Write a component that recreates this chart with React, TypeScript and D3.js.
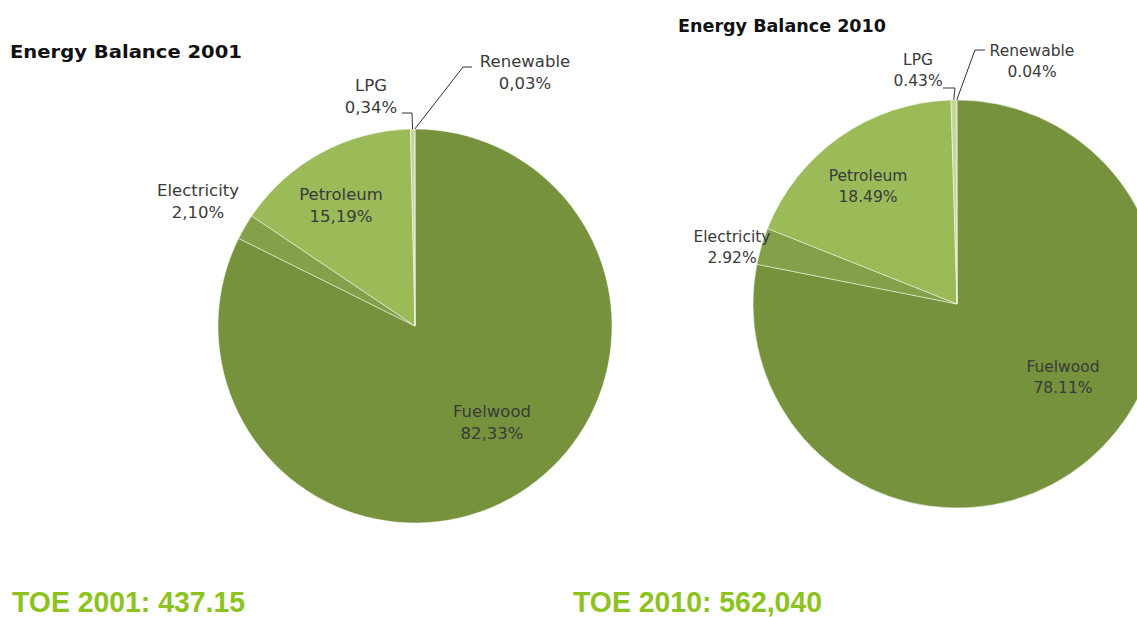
import React from "react";
import * as d3 from "d3";

const categories = ["Fuelwood", "Electricity", "Petroleum", "LPG", "Renewable"];
const values2001 = [82.33, 2.1, 15.19, 0.34, 0.03];
const values2010 = [78.11, 2.92, 18.49, 0.43, 0.04];
const labels2001 = ["82,33%", "2,10%", "15,19%", "0,34%", "0,03%"];
const labels2010 = ["78.11%", "2.92%", "18.49%", "0.43%", "0.04%"];
const colors = ["#76923C", "#84A04A", "#9BBB59", "#C4D79B", "#6E8A36"];

const layouts = [
  {
    title: "Energy Balance 2001",
    titleX: 10,
    titleY: 58,
    titleW: 232,
    cx: 415,
    cy: 326,
    r: 197,
    fontSize: 16.5,
    lineGap: 22,
    values: values2001,
    labels: labels2001,
    labelOffsets: [[77, 97], [-217, -124], [-74, -120], [-44, -229], [110, -253]],
    leaders: [null, null, null, [[-3, -213], [-13, -213]], [[48, -259], [57, -259]]],
    toe: "TOE 2001: 437.15",
    toeX: 12,
    toeW: 233,
  },
  {
    title: "Energy Balance 2010",
    titleX: 678,
    titleY: 32,
    titleW: 208,
    cx: 957,
    cy: 304,
    r: 204,
    fontSize: 15.5,
    lineGap: 21,
    values: values2010,
    labels: labels2010,
    labelOffsets: [[106, 73], [-225, -57], [-89, -118], [-39, -234], [75, -243]],
    leaders: [null, null, null, [[-2, -216], [-14, -216]], [[18, -254], [28, -254]]],
    toe: "TOE 2010: 562,040",
    toeX: 573,
    toeW: 249,
  },
];

function Pie({ L }: { L: (typeof layouts)[number] }) {
  const pie = d3.pie<number>().sort(null).value((d) => d);
  const arcs = pie(L.values);
  const arcGen = d3.arc<d3.PieArcDatum<number>>().innerRadius(0).outerRadius(L.r);
  return (
    <g>
      <text
        x={L.titleX}
        y={L.titleY}
        fontFamily="'DejaVu Sans', sans-serif"
        fontWeight="bold"
        fontSize={17.5}
        fill="#111"
        textLength={L.titleW}
        lengthAdjust="spacingAndGlyphs"
      >
        {L.title}
      </text>
      <g transform={`translate(${L.cx},${L.cy})`}>
        {arcs.map((a, i) => (
          <path key={i} d={arcGen(a) || ""} fill={colors[i]} stroke="#ffffff" strokeOpacity={0.6} strokeWidth={0.8} />
        ))}
        {arcs.map((a, i) => {
          const ld = L.leaders[i];
          if (!ld) return null;
          const mid = (a.startAngle + a.endAngle) / 2;
          const ex = Math.sin(mid) * L.r;
          const ey = -Math.cos(mid) * L.r;
          return (
            <polyline
              key={"l" + i}
              points={`${ex},${ey} ${ld[0][0]},${ld[0][1]} ${ld[1][0]},${ld[1][1]}`}
              fill="none"
              stroke="#333"
              strokeWidth={1}
            />
          );
        })}
        {arcs.map((a, i) => {
          const [ox, oy] = L.labelOffsets[i];
          return (
            <text
              key={"t" + i}
              textAnchor="middle"
              fontFamily="'DejaVu Sans', sans-serif"
              fontSize={L.fontSize}
              fill="#3a3a3a"
            >
              <tspan x={ox} y={oy - L.lineGap / 2 + 5}>{categories[i]}</tspan>
              <tspan x={ox} y={oy + L.lineGap / 2 + 5}>{L.labels[i]}</tspan>
            </text>
          );
        })}
      </g>
      <text
        x={L.toeX}
        y={612}
        fontFamily="'Liberation Sans', Arial, sans-serif"
        fontWeight="bold"
        fontSize={29}
        fill="#8DC21F"
        textLength={L.toeW}
        lengthAdjust="spacingAndGlyphs"
      >
        {L.toe}
      </text>
    </g>
  );
}

export default function App() {
  return (
    <svg
      width={1137}
      height={617}
      viewBox="0 0 1137 617"
      style={{ position: "absolute", left: 0, top: 0, display: "block", background: "#fff" }}
    >
      <rect width={1137} height={617} fill="#fff" />
      {layouts.map((L, i) => (
        <Pie key={i} L={L} />
      ))}
    </svg>
  );
}
